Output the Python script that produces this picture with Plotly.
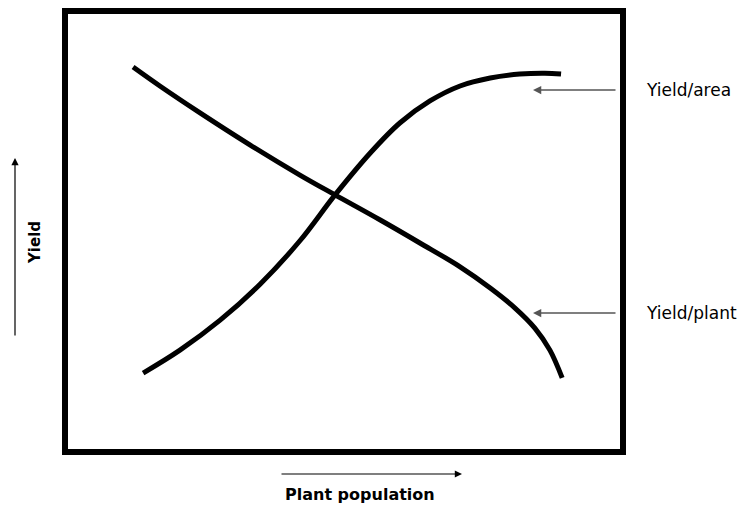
import plotly.graph_objects as go

# Conceptual curves (x: plant population 0-100 across frame, y: yield 0-100)
plant_x = [12.2, 17.0, 24.2, 33.2, 42.1, 48.4, 56.5, 63.6, 70.8, 76.2, 80.6, 84.2, 86.9, 89.1]
yield_per_plant = [87.3, 83.0, 76.9, 69.6, 62.8, 58.3, 52.6, 47.4, 42.0, 37.2, 32.7, 28.1, 23.1, 16.8]

area_x = [14.0, 20.6, 27.8, 35.0, 42.1, 48.4, 54.7, 60.0, 65.4, 70.8, 76.2, 81.5, 86.0, 88.9]
yield_per_area = [17.9, 23.1, 29.9, 38.1, 47.9, 58.3, 67.8, 74.6, 79.6, 83.0, 84.8, 85.7, 85.9, 85.7]

labels = ["Yield/area", "Yield/plant"]
x_title = "Plant population"
y_title = "Yield"

fig = go.Figure()
for xs, ys, nm in [(plant_x, yield_per_plant, labels[1]), (area_x, yield_per_area, labels[0])]:
    fig.add_trace(go.Scatter(x=xs, y=ys, mode="lines",
                             line=dict(color="black", width=5, shape="spline", smoothing=1.0),
                             name=nm, hoverinfo="skip"))

# page body has an 8px margin; figure is sized to fit the window
OFF = 8
W, H = 746 - OFF, 505 - OFF
# plot area in page pixels: x 65..623, y 11..452
PL, PR, PT, PB = 65, 623, 11, 452
L, T = PL - OFF, PT - OFF
R, B = W - (PR - OFF), H - (PB - OFF)
pw, ph = PR - PL, PB - PT

def px(x):
    return (x - PL) / pw

def py(y):
    return (PB - y) / ph

# frame
fig.add_shape(type="rect", xref="paper", yref="paper", x0=0, x1=1, y0=0, y1=1,
              line=dict(color="black", width=6), layer="above")

ann = []
for lab, ytip in [(labels[0], 90), (labels[1], 313)]:
    ann.append(dict(xref="paper", yref="paper", x=px(533), y=py(ytip), text="",
                    showarrow=True, ax=84, ay=0, arrowcolor="#555555", arrowwidth=1.5,
                    arrowhead=2, arrowsize=1.1, standoff=0, startstandoff=0))
    ann.append(dict(xref="paper", yref="paper", x=px(644), y=py(ytip), text=lab,
                    showarrow=False, xanchor="left", yanchor="middle",
                    font=dict(family="DejaVu Sans", size=17, color="black")))

ann.append(dict(xref="paper", yref="paper", x=px(15), y=py(158), text="",
                showarrow=True, ax=0, ay=179, arrowcolor="black", arrowwidth=1.2,
                arrowhead=2, arrowsize=1.2, standoff=0))
ann.append(dict(xref="paper", yref="paper", x=px(462), y=py(474), text="",
                showarrow=True, ax=-182, ay=0, arrowcolor="black", arrowwidth=1.2,
                arrowhead=2, arrowsize=1.2, standoff=0))
ann.append(dict(xref="paper", yref="paper", x=px(35), y=py(243), text=y_title,
                showarrow=False, textangle=-90, xanchor="center", yanchor="middle",
                font=dict(family="DejaVu Sans", size=15, color="black", weight="bold")))
ann.append(dict(xref="paper", yref="paper", x=px(360), y=py(494), text=x_title,
                showarrow=False, xanchor="center", yanchor="middle",
                font=dict(family="DejaVu Sans", size=16, color="black", weight="bold")))

fig.update_layout(
    width=W, height=H,
    margin=dict(l=L, r=R, t=T, b=B),
    paper_bgcolor="white", plot_bgcolor="white",
    showlegend=False,
    xaxis=dict(range=[0, 100], visible=False, fixedrange=True),
    yaxis=dict(range=[0, 100], visible=False, fixedrange=True),
    annotations=ann,
)

fig.write_html("out.html")
